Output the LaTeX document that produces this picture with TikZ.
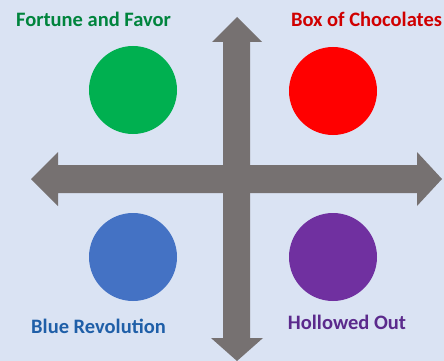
\documentclass[tikz,border=0pt]{standalone}
\usepackage{fontspec}
\setmainfont{Carlito}
\definecolor{bg}{HTML}{DAE3F3}
\definecolor{arrowgrey}{HTML}{767171}
\definecolor{cgreen}{HTML}{00B050}
\definecolor{cred}{HTML}{FF0000}
\definecolor{cblue}{HTML}{4472C4}
\definecolor{cpurple}{HTML}{7030A0}
\definecolor{tgreen}{HTML}{00843D}
\definecolor{tred}{HTML}{D00000}
\definecolor{tblue}{HTML}{1F5FA8}
\definecolor{tpurple}{HTML}{5B2A8C}
\tikzset{
  dot/.style={circle, minimum size=88pt, inner sep=0pt, draw=none},
  lbl/.style={font=\fontsize{20.5}{24}\selectfont\bfseries, inner sep=0pt, anchor=base},
  bigarrow/.style={fill=arrowgrey, draw=none}
}
\begin{document}
\begin{tikzpicture}[x=1pt,y=-1pt]
\fill[bg] (0,0) rectangle (444,361);
\useasboundingbox (0,0) rectangle (444,361);
% horizontal double arrow
\fill[bigarrow] (31,179) -- (58,152) -- (58,165) -- (417,165) -- (417,152) -- (442,179)
  -- (417,206) -- (417,193) -- (58,193) -- (58,206) -- cycle;
% vertical double arrow
\fill[bigarrow] (237,17) -- (262,42) -- (250,42) -- (250,338) -- (263,338) -- (237,361)
  -- (211,338) -- (223,338) -- (223,42) -- (212,42) -- cycle;
\node[dot, fill=cgreen] (green) at (133,90) {};
\node[dot, fill=cred] (red) at (333,91) {};
\node[dot, fill=cblue] (blue) at (133,257) {};
\node[dot, fill=cpurple] (purple) at (333,257) {};
\node[lbl, text=tgreen] (tfortune) at (93.5,27) {Fortune and Favor};
\node[lbl, text=tred] (tbox) at (366.5,27) {Box of Chocolates};
\node[lbl, text=tblue] (tbluerev) at (98.5,333) {Blue Revolution};
\node[lbl, text=tpurple] (thollow) at (347,329) {Hollowed Out};
\end{tikzpicture}
\end{document}
